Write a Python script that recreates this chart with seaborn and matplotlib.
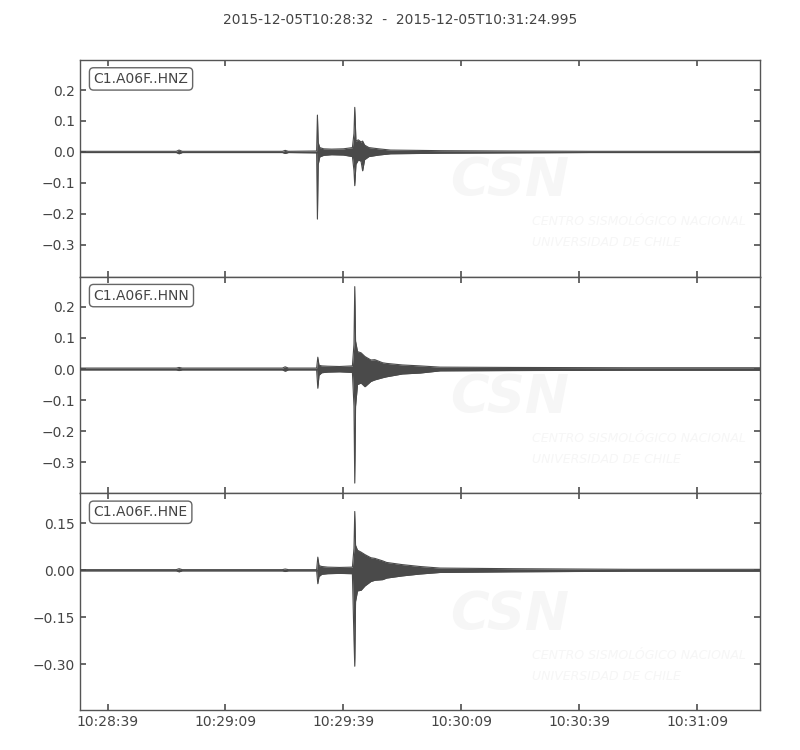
import matplotlib
matplotlib.use("Agg")
import matplotlib.pyplot as plt
import numpy as np
import pandas as pd
import seaborn as sns

# --- data (seconds after 2015-12-05T10:28:32) ---
title = "2015-12-05T10:28:32  -  2015-12-05T10:31:24.995"
t_end = 172.995
channels = ["C1.A06F..HNZ", "C1.A06F..HNN", "C1.A06F..HNE"]

tick_secs = [7, 37, 67, 97, 127, 157]
tick_labels = ["10:28:39", "10:29:09", "10:29:39", "10:30:09", "10:30:39", "10:31:09"]

# HNZ envelope
hnz_t = [0, 24.5, 25.2, 26.0, 51.5, 52.2, 53.0, 60.2, 60.4, 60.6, 61.0, 62, 64, 67,
         69.3, 69.7, 69.9, 70.2, 70.8, 71.5, 71.9, 72.4, 73.5, 76, 79, 86, 92, 110, 130, 173]
hnz_hi = [.002, .002, .006, .002, .002, .005, .002, .003, .119, .03, .014, .01, .009, .01,
          .014, .06, .144, .035, .039, .032, .035, .022, .014, .01, .006, .005, .004, .003, .002, .002]
hnz_lo = [-.002, -.002, -.006, -.002, -.002, -.005, -.002, -.003, -.217, -.04, -.016, -.011, -.009, -.01,
          -.015, -.06, -.109, -.04, -.026, -.03, -.061, -.025, -.015, -.01, -.006, -.005, -.004, -.003, -.002, -.002]

# HNN envelope
hnn_t = [0, 24.5, 25.2, 26.0, 51.5, 52.2, 53.0, 60.2, 60.5, 60.8, 61.5, 63, 66, 69.3,
         69.7, 69.9, 70.1, 70.6, 71.5, 72.5, 74, 75, 77, 78, 82, 86.5, 91.6, 110, 140, 173]
hnn_hi = [.003, .003, .005, .003, .003, .007, .003, .003, .038, .012, .01, .009, .008, .01,
          .08, .265, .09, .056, .052, .04, .029, .03, .02, .018, .013, .01, .006, .005, .004, .004]
hnn_lo = [-.003, -.003, -.005, -.003, -.003, -.007, -.003, -.003, -.062, -.02, -.012, -.01, -.009, -.011,
          -.12, -.367, -.12, -.05, -.045, -.057, -.04, -.035, -.028, -.025, -.016, -.013, -.006, -.005, -.004, -.004]

# HNE envelope
hne_t = [0, 24.5, 25.2, 26.0, 51.5, 52.2, 53.0, 60.2, 60.5, 60.8, 61.5, 63, 66, 69.3,
         69.7, 69.9, 70.1, 70.6, 71.5, 72.5, 74, 75, 77, 78, 82, 86.5, 91.6, 110, 140, 173]
hne_hi = [.002, .002, .005, .002, .002, .004, .002, .002, .042, .015, .012, .01, .009, .01,
          .07, .188, .08, .064, .058, .05, .04, .038, .03, .025, .018, .012, .007, .005, .003, .003]
hne_lo = [-.002, -.002, -.005, -.002, -.002, -.004, -.002, -.002, -.043, -.02, -.013, -.011, -.01, -.011,
          -.22, -.307, -.1, -.066, -.064, -.05, -.036, -.032, -.03, -.025, -.018, -.012, -.007, -.005, -.003, -.003]

ylims = [(-0.403, 0.297), (-0.400, 0.297), (-0.447, 0.246)]
yticks = [[-0.3, -0.2, -0.1, 0.0, 0.1, 0.2],
          [-0.3, -0.2, -0.1, 0.0, 0.1, 0.2],
          [-0.30, -0.15, 0.00, 0.15]]

traces = [(hnz_t, hnz_hi, hnz_lo), (hnn_t, hnn_hi, hnn_lo), (hne_t, hne_hi, hne_lo)]

# --- style ---
sns.set_theme(style="ticks", rc={
    "axes.edgecolor": "#555555",
    "axes.linewidth": 1.0,
    "xtick.color": "#555555",
    "ytick.color": "#555555",
    "xtick.labelcolor": "#444444",
    "ytick.labelcolor": "#444444",
    "xtick.direction": "in",
    "ytick.direction": "in",
    "xtick.major.size": 4,
    "ytick.major.size": 4,
    "xtick.labelsize": 10,
    "ytick.labelsize": 10,
    "text.color": "#444444",
})
plt.rcParams["font.family"] = ["DejaVu Sans"]

line_color = "#4a4a4a"
wm_color = "#f6f6f6"

fig, axes = plt.subplots(3, 1, figsize=(8, 7.5), dpi=100, sharex=True)
fig.subplots_adjust(left=0.1, right=0.95, top=0.92, bottom=0.0533, hspace=0)

for ax, name, (t, hi, lo), yl, yt in zip(axes, channels, traces, ylims, yticks):
    df = pd.DataFrame({"t": t, "hi": hi, "lo": lo})

    # faint CSN watermark
    ax.text(0.632, 0.44, "CSN", transform=ax.transAxes, fontsize=38, fontweight="bold",
            fontstyle="italic", color=wm_color, ha="center", va="center", zorder=0)
    ax.text(0.664, 0.253, "CENTRO SISMOLÓGICO NACIONAL", transform=ax.transAxes, fontsize=9,
            fontstyle="italic", color=wm_color, ha="left", va="center", zorder=0, clip_on=True)
    ax.text(0.664, 0.157, "UNIVERSIDAD DE CHILE", transform=ax.transAxes, fontsize=9,
            fontstyle="italic", color=wm_color, ha="left", va="center", zorder=0, clip_on=True)

    ax.fill_between(df["t"], df["lo"], df["hi"], color=line_color, linewidth=0, zorder=2)
    sns.lineplot(data=df, x="t", y="hi", ax=ax, color=line_color, linewidth=0.8,
                 estimator=None, zorder=3)
    sns.lineplot(data=df, x="t", y="lo", ax=ax, color=line_color, linewidth=0.8,
                 estimator=None, zorder=3)

    ax.set_xlim(0, t_end)
    ax.set_ylim(*yl)
    ax.set_yticks(yt)
    ax.set_xticks(tick_secs)
    ax.set_xticklabels(tick_labels)
    ax.set_xlabel("")
    ax.set_ylabel("")
    ax.tick_params(top=True, right=True, which="both")
    ax.text(0.02, 0.945, name, transform=ax.transAxes, fontsize=10, color="#444444",
            ha="left", va="top",
            bbox=dict(boxstyle="round,pad=0.3", facecolor="white", edgecolor="#666666"))

for ax in axes[:-1]:
    ax.tick_params(labelbottom=False)

fig.suptitle(title, y=0.982, fontsize=10, color="#444444")
fig.savefig("out.png", dpi=100)
